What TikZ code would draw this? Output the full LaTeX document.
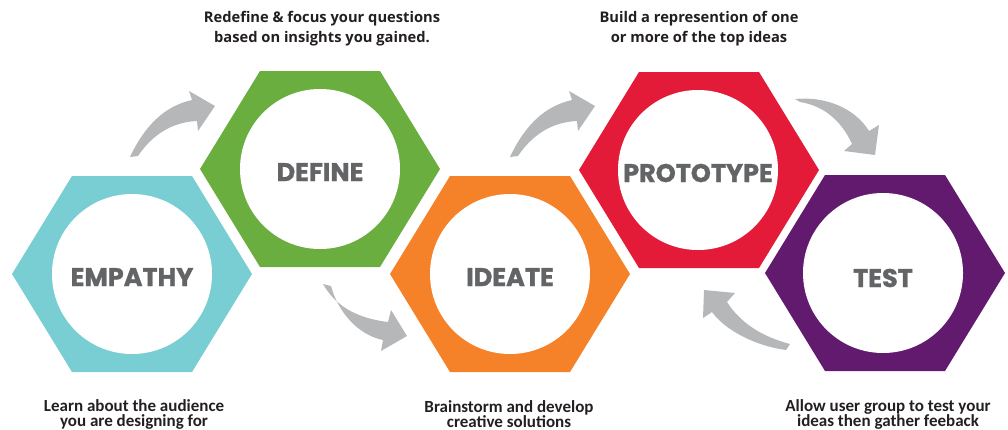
\documentclass[tikz,border=0pt]{standalone}
\usepackage{fontspec}
\newfontfamily\labfont{Poppins}[BoldFeatures={FakeBold=1.2}]
\newfontfamily\capfont{Open Sans}
\newfontfamily\botfont{Carlito}
\definecolor{cteal}{HTML}{78CED3}
\definecolor{cgreen}{HTML}{6AAE3F}
\definecolor{corange}{HTML}{F58229}
\definecolor{cred}{HTML}{E31A38}
\definecolor{cpurple}{HTML}{621A6E}
\definecolor{arrgray}{HTML}{B6B7B9}
\definecolor{labgray}{HTML}{636466}
\definecolor{captext}{HTML}{231F20}
\begin{document}
\begin{tikzpicture}[x=1pt,y=-1pt,
  hexa/.pic={\fill[pic actions] (-120,0)--(-60,-98)--(60,-98)--(120,0)--(60,98)--(-60,98)--cycle;},
  inner/.style={circle,fill=white,minimum size=160pt,inner sep=0pt,text height=24pt,text depth=0pt,text=labgray,font=\labfont\bfseries\fontsize{25.5}{25.5}\selectfont},
  arr/.style={fill=arrgray},
  topcap/.style={align=center,text=captext,font=\capfont\bfseries\fontsize{14.7}{20}\selectfont},
  botcap/.style={align=center,text=captext,font=\botfont\bfseries\fontsize{17}{15}\selectfont}]
\useasboundingbox (0,0) rectangle (1008,429);
% hexagons
\pic[fill=cteal]   at (132,274) {hexa};
\pic[fill=cgreen]  at (320,169) {hexa};
\pic[fill=corange] at (510,274) {hexa};
\pic[fill=cred]    at (699,170) {hexa};
\pic[fill=cpurple] at (885,273) {hexa};
% inner circles with labels
\node[inner] (empathy)   at (132,274) {EMPATHY};
\node[inner] (define)    at (320,169) {DEFINE};
\node[inner] (ideate)    at (510,274) {IDEATE};
\node[inner] (prototype) at (698,170) {PROTOTYPE};
\node[inner,text height=28pt] (test) at (883,273) {TEST};
% arrows
\fill[arr] (130,157) .. controls (145,125) and (165,106) .. (192,100) -- (189,91) -- (215,106) -- (198,131) -- (197,121) .. controls (172,122) and (152,135) .. (138,156) -- cycle;
\fill[arr,shift={(380,0)}] (130,157) .. controls (145,125) and (165,106) .. (192,100) -- (189,91) -- (215,106) -- (198,131) -- (197,121) .. controls (172,122) and (152,135) .. (138,156) -- cycle;
\fill[arr] (323,284) .. controls (335,305) and (355,318) .. (388,322) -- (391,310) -- (407,336) -- (381,351) -- (383,340) .. controls (358,335) and (338,312) .. (331,286) -- cycle;
\fill[arr] (795,99) .. controls (825,96) and (855,108) .. (869,131) -- (879,125) -- (875,155) -- (844,151) -- (852,144) .. controls (842,122) and (825,106) .. (800,102) -- cycle;
\fill[arr] (704,290) -- (735,293) -- (727,302) .. controls (740,322) and (760,336) .. (790,344) -- (786,350) .. controls (755,346) and (725,330) .. (712,312) -- (703,318) -- cycle;
% captions
\node[topcap] (capdefine) at (322,29) {Redefine \& focus your questions\\based on insights you gained.};
\node[topcap] (capproto) at (699,29) {Build a represention of one\\or more of the top ideas};
\node[botcap] (capemp) at (134,414) {Learn about the audience\\you are designing for};
\node[botcap] (capidea) at (509,414) {Brainstorm and develop\\creative solutions};
\node[botcap] (captest) at (888,414) {Allow user group to test your\\ideas then gather feeback};
\end{tikzpicture}
\end{document}
